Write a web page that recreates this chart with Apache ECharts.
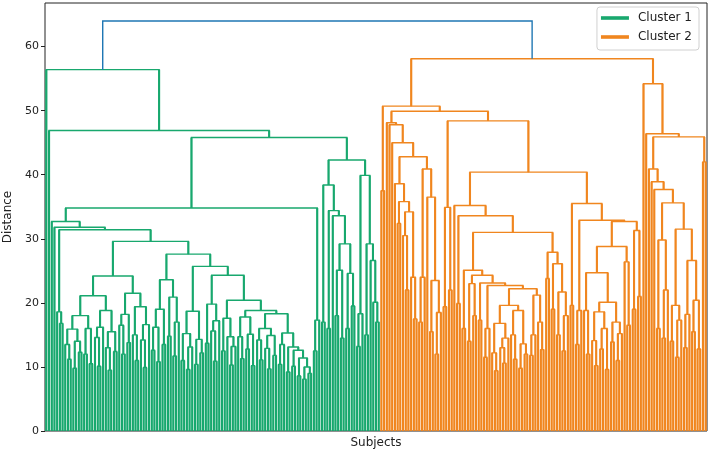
<!DOCTYPE html>
<html>
<head>
<meta charset="utf-8">
<title>Dendrogram</title>
<script src="https://cdn.jsdelivr.net/npm/echarts/dist/echarts.min.js"></script>
<style>
  html, body { margin: 0; padding: 0; background: #fff; }
  #chart { width: 709px; height: 450px; }
</style>
</head>
<body>
<div id="chart"></div>
<script>
// merge height between each leaf and the next one, leaves read left to right
// (the tree is rebuilt from these: the highest gap in a range is the split)
var greenGaps = [
  56.4, 46.9, 32.7, 31.8, 18.6, 16.8, 31.4,
  13.5, 11.2, 15.9, 9.8, 14.0, 12.3, 18.0, 12.0, 16.0, 10.5, 21.1,
  14.6, 10.1, 16.2, 18.8, 13.0, 9.5, 15.5, 12.4, 24.2,
  16.5, 12.0, 18.2, 13.8, 21.5, 15.0, 11.0, 19.4, 14.2, 9.9, 16.6, 29.6,
  12.6, 16.2, 10.8, 19.0, 13.5, 23.6, 14.8, 20.9, 11.7, 17.0, 27.6,
  11.0, 15.2, 9.6, 13.1, 18.7, 10.4, 14.3, 12.2, 25.7,
  13.7, 19.8, 15.6, 10.9, 17.2, 24.3,
  12.5, 17.6, 14.7, 10.3, 13.2, 20.4,
  14.7, 11.3, 17.8, 12.8, 15.1, 10.2, 18.8,
  14.2, 11.1, 16.0, 12.9, 9.7, 14.9, 11.8, 18.3,
  10.4, 13.5, 15.3, 9.2, 13.1, 10.1, 12.6, 8.6, 11.4, 8.1, 10.0, 9.0, 34.8,
  12.5, 17.3, 45.8,
  17.0, 38.4, 16.0, 34.4, 33.6, 18.0, 25.1, 14.5, 29.2, 16.0, 24.6, 19.5, 42.3,
  13.2, 18.3, 39.9, 15.0, 29.2, 26.6, 20.1, 17.0
];
var rootHeight = 64.0;
var orangeGaps = [
  37.5, 50.7, 48.1, 47.8, 45.0, 38.6, 32.4, 35.8, 30.5, 22.0, 34.2, 24.0, 17.5, 42.8,
  17.0, 24.0, 40.9, 36.5, 15.5, 23.5, 12.0, 18.5, 49.9,
  19.4, 34.9, 22.0, 48.4,
  35.2, 19.9, 33.6, 16.0, 25.1, 14.0, 23.0, 18.0, 24.3, 17.3, 23.1, 11.5, 16.0, 22.7,
  12.2, 9.4, 16.8, 13.0, 10.6, 14.5, 19.6, 15.0, 11.2, 18.8, 9.8, 13.6, 12.0, 22.2,
  11.8, 15.0, 21.2, 17.0, 12.7, 31.0,
  23.8, 27.9, 19.0, 26.1, 15.0, 21.7, 12.5, 18.0, 40.4,
  19.6, 35.5, 13.5, 18.8, 32.9, 18.8, 12.0, 24.7,
  14.1, 10.2, 18.6, 12.8, 16.0, 9.6, 20.1, 13.9, 17.0, 11.0, 15.2, 28.8,
  26.4, 16.5, 32.7, 19.0, 31.3, 21.0, 58.1,
  54.2, 46.4, 40.9, 38.9, 37.7, 16.0, 29.8, 14.5, 22.0, 35.6,
  14.0, 19.6, 11.5, 17.3, 31.5, 13.0, 18.2, 26.6, 15.5, 20.4, 12.8, 45.9, 42.0
];
var seriesNames = ['Cluster 1', 'Cluster 2'];
var yTicks = [0, 10, 20, 30, 40, 50, 60];

var greenColor = '#18a86e';
var orangeColor = '#f0861f';
var rootColor = '#1f77b4';

var allGaps = greenGaps.concat([rootHeight], orangeGaps);
var nLeaves = allGaps.length + 1;

// U shaped links, leaves sit at 5, 15, 25 ... like scipy
function layout(lo, hi, segs) {
  if (lo === hi) return { x: 5 + 10 * lo, h: 0 };
  var k = lo;
  for (var i = lo + 1; i < hi; i++) {
    if (allGaps[i] > allGaps[k]) k = i;
  }
  var a = layout(lo, k, segs);
  var b = layout(k + 1, hi, segs);
  var h = allGaps[k];
  segs.push([[a.x, a.h], [a.x, h], [b.x, h], [b.x, b.h]]);
  return { x: (a.x + b.x) / 2, h: h };
}

var greenSegs = [], orangeSegs = [];
var gTop = layout(0, greenGaps.length, greenSegs);
var oTop = layout(greenGaps.length + 1, nLeaves - 1, orangeSegs);
var rootSeg = [[[gTop.x, gTop.h], [gTop.x, rootHeight], [oTop.x, rootHeight], [oTop.x, oTop.h]]];

function toData(segs) {
  return segs.map(function (c) { return { coords: c }; });
}
// the two legs of every U, drawn a bit heavier so the dense bottom fills in
function legs(segs) {
  var out = [];
  segs.forEach(function (c) {
    out.push({ coords: [c[0], c[1]] });
    out.push({ coords: [c[2], c[3]] });
  });
  return out;
}

function linkSeries(name, color, segs, legWidth) {
  return [
    {
      name: name, type: 'lines', coordinateSystem: 'cartesian2d',
      polyline: true, silent: true,
      itemStyle: { color: color },
      lineStyle: { color: color, width: legWidth, opacity: 1 },
      data: legs(segs)
    },
    {
      name: name, type: 'lines', coordinateSystem: 'cartesian2d',
      polyline: true, silent: true,
      itemStyle: { color: color },
      lineStyle: { color: color, width: 1.4, opacity: 1 },
      data: toData(segs)
    }
  ];
}

var chart = echarts.init(document.getElementById('chart'));
var option = {
  animation: false,
  backgroundColor: '#fff',
  textStyle: { fontFamily: 'DejaVu Sans' },
  grid: {
    left: 45, right: 2, top: 3, bottom: 19,
    containLabel: false,
    outerBoundsMode: 'none',
    show: true, borderColor: '#222', borderWidth: 1
  },
  legend: {
    orient: 'vertical',
    right: 10,
    top: 7,
    padding: [4, 7, 6, 4],
    itemGap: 5,
    itemWidth: 26,
    itemHeight: 1.6,
    backgroundColor: '#fff',
    borderColor: '#d0d0d0',
    borderWidth: 1,
    borderRadius: 3,
    textStyle: { fontSize: 12, color: '#222', lineHeight: 14, padding: [0, 0, 0, 5] },
    data: [
      { name: seriesNames[0], icon: 'rect', itemStyle: { color: greenColor } },
      { name: seriesNames[1], icon: 'rect', itemStyle: { color: orangeColor } }
    ]
  },
  xAxis: {
    type: 'value',
    min: 0,
    max: 10 * nLeaves,
    name: 'Subjects',
    nameLocation: 'middle',
    nameGap: 6,
    nameTextStyle: { fontSize: 12, color: '#222' },
    axisLine: { show: false },
    axisTick: { show: false },
    axisLabel: { show: false },
    splitLine: { show: false }
  },
  yAxis: {
    type: 'value',
    min: 0,
    max: 66.8,
    interval: 10,
    name: 'Distance',
    nameLocation: 'middle',
    nameGap: 31,
    nameRotate: 90,
    nameTextStyle: { fontSize: 12, color: '#222' },
    axisLine: { show: false },
    axisTick: { show: true, length: 4, lineStyle: { color: '#222' }, customValues: yTicks },
    axisLabel: { fontSize: 11, color: '#222', margin: 6, customValues: yTicks },
    splitLine: { show: false }
  },
  series: linkSeries(seriesNames[0], greenColor, greenSegs, 2.1)
    .concat(linkSeries(seriesNames[1], orangeColor, orangeSegs, 2.1))
    .concat([{
      name: 'root', type: 'lines', coordinateSystem: 'cartesian2d',
      polyline: true, silent: true,
      lineStyle: { color: rootColor, width: 1.4, opacity: 1 },
      data: toData(rootSeg)
    }])
};
chart.setOption(option);
</script>
</body>
</html>
